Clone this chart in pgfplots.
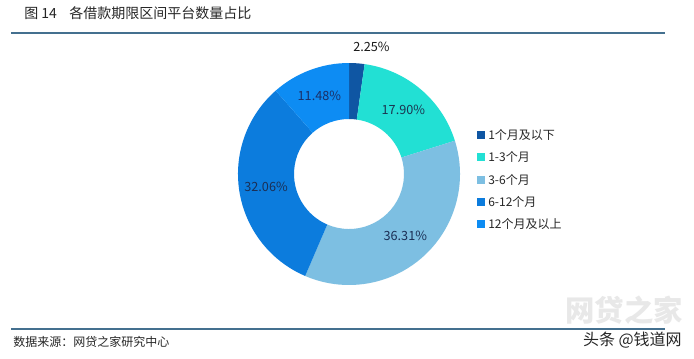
\documentclass[border=0pt]{standalone}
\usepackage{fontspec}
\setmainfont{Noto Sans CJK SC}
\usepackage{pgfplots}
\usepackage{pgfplotstable}
\pgfplotsset{compat=1.18}
\pgfkeys{/pgf/number format/assume math mode=true}

\definecolor{seg0}{HTML}{0F56A3}
\definecolor{seg1}{HTML}{22E0D4}
\definecolor{seg2}{HTML}{7DBFE2}
\definecolor{seg3}{HTML}{0C7CDD}
\definecolor{seg4}{HTML}{0D8CF3}
\definecolor{lc0}{HTML}{1A1A1A}
\definecolor{lc1}{HTML}{1B3550}
\definecolor{lc2}{HTML}{1B2F55}
\definecolor{lc3}{HTML}{1B2F55}
\definecolor{lc4}{HTML}{1B2F66}
\definecolor{rulec}{HTML}{44708F}
\definecolor{txt}{HTML}{262626}

% share of platforms by loan term (percent), label radius (px), label angle shift (deg)
\pgfplotstableread[col sep=comma]{
name,value,lr,ls
1个月及以下,2.25,129,-6
1-3个月,17.90,84,0
3-6个月,36.31,84,0
6-12个月,32.06,84,0
12个月及以上,11.48,84,0
}\shares

\begin{document}
\begin{tikzpicture}
\gdef\cum{0}
\pgfplotsforeachungrouped \i in {0,...,4}{%
  \pgfplotstablegetelem{\i}{value}\of\shares \let\v\pgfplotsretval
  \pgfmathsetmacro\aa{90-3.6*\cum}%
  \pgfmathsetmacro\newcum{\cum+\v}%
  \xdef\cum{\newcum}%
  \pgfmathsetmacro\bb{90-3.6*\cum}%
  \expandafter\xdef\csname sa\i\endcsname{\aa}%
  \expandafter\xdef\csname sb\i\endcsname{\bb}%
  \expandafter\xdef\csname vv\i\endcsname{\v}%
  \pgfplotstablegetelem{\i}{ls}\of\shares
  \pgfmathsetmacro\mm{(\aa+\bb)/2+\pgfplotsretval}%
  \expandafter\xdef\csname mm\i\endcsname{\mm}%
  \pgfplotstablegetelem{\i}{lr}\of\shares
  \expandafter\xdef\csname lr\i\endcsname{\pgfplotsretval}%
  \pgfplotstablegetelem{\i}{name}\of\shares
  \expandafter\xdef\csname nm\i\endcsname{\pgfplotsretval}%
}
\begin{axis}[
  scale only axis, width=520.5pt, height=268.5pt,
  xmin=0, xmax=694, ymin=0, ymax=358, y dir=reverse,
  hide axis, clip=false]
\fill[white] (axis cs:0,0) rectangle (axis cs:694,358);
% watermark logo
\node[text=black!9, inner sep=0pt, font=\fontsize{22}{24}\selectfont\bfseries] at (axis cs:624,310) {网贷之家};
% rules
\draw[rulec, line width=1.5pt] (axis cs:11,32.5) -- (axis cs:665,32.5);
\draw[rulec, line width=1.5pt] (axis cs:11,328.5) -- (axis cs:665,328.5);
% title
\node[anchor=west, inner sep=0pt, text=txt, font=\fontsize{10.5}{12}\selectfont] at (axis cs:24,13) {图 14};
\node[anchor=west, inner sep=0pt, text=txt, font=\fontsize{10.5}{12}\selectfont] at (axis cs:69,13) {各借款期限区间平台数量占比};
% source
\node[anchor=west, inner sep=0pt, text=txt, font=\fontsize{9}{11}\selectfont] at (axis cs:13,342) {数据来源：网贷之家研究中心};
\node[anchor=east, inner sep=0pt, text=txt, font=\fontsize{12}{14}\selectfont] at (axis cs:682,340) {头条 @钱道网};
% donut
\pgfplotsinvokeforeach{0,...,4}{
  \fill[seg#1] ([shift={(\csname sa#1\endcsname:83.25pt)}]axis cs:349,174)
    arc[start angle=\csname sa#1\endcsname, end angle=\csname sb#1\endcsname, radius=83.25pt]
    -- ([shift={(\csname sb#1\endcsname:41.25pt)}]axis cs:349,174)
    arc[start angle=\csname sb#1\endcsname, end angle=\csname sa#1\endcsname, radius=41.25pt]
    -- cycle;
  \node[text=lc#1, inner sep=0pt, font=\fontsize{9.5}{11}\selectfont]
    at ([shift={(\csname mm#1\endcsname:\csname lr#1\endcsname*0.75pt)}]axis cs:349,174)
    {\pgfmathprintnumber[fixed, fixed zerofill, precision=2]{\csname vv#1\endcsname}\%};
  \fill[seg#1] (axis cs:477,{135+22.25*#1-4}) rectangle (axis cs:485,{135+22.25*#1+4});
  \node[anchor=west, inner sep=0pt, text=txt, font=\fontsize{9}{11}\selectfont]
    at (axis cs:488,{135+22.25*#1}) {\csname nm#1\endcsname};
}
\end{axis}
\end{tikzpicture}
\end{document}
